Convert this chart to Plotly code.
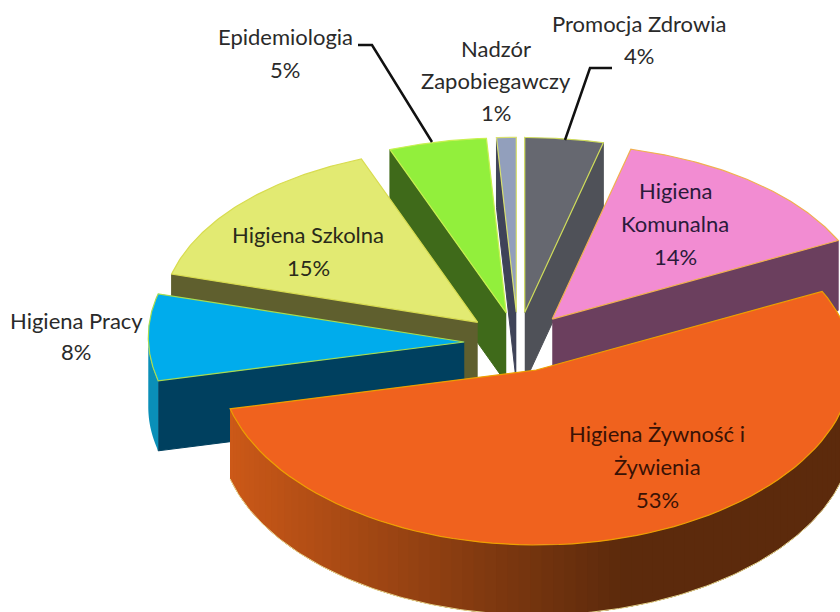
import numpy as np
import plotly.graph_objects as go

categories = ["Promocja Zdrowia", "Higiena Komunalna", "Higiena Żywność i Żywienia",
              "Higiena Pracy", "Higiena Szkolna", "Epidemiologia", "Nadzór Zapobiegawczy"]
values = [4, 14, 53, 8, 15, 5, 1]
top_colors = ["#666870", "#f28cd2", "#f0621e", "#00acec", "#e2ea72", "#92ef3c", "#929fbc"]
wall_colors = ["#4f5158", "#6b3f5e", "#8a3c12", "#00405f", "#5f5f2e", "#3f6a1a", "#3f4358"]
edge_colors = ["#cfdc5a", "#f0b050", "#eda000", "#a8dc50", "#d8dc50", "#c8f050", "#d8e070"]
draw_order = [6, 0, 5, 4, 1, 3, 2]

label_lines = [["Promocja Zdrowia", "4%"], ["Higiena", "Komunalna", "14%"],
               ["Higiena Żywność i", "Żywienia", "53%"], ["Higiena Pracy", "8%"],
               ["Higiena Szkolna", "15%"], ["Epidemiologia", "5%"],
               ["Nadzór", "Zapobiegawczy", "1%"]]
label_x = [639, 675, 657, 76, 308, 285, 496]
label_y = [23, 190, 433, 320, 234, 36, 48]
label_gap = [32, 33, 33, 31, 33, 33, 32]
label_colors = ["#2a2a2a", "#2a1a3a", "#3a1205", "#2a2a2a", "#2a2a1a", "#2a2a2a", "#2a2a2a"]

leader_x = [[358, 372, 432], [612, 590, 565]]
leader_y = [[45, 45, 142], [68, 68, 140]]

CX, CY, RX, RY, EXPLODE, DEPTH, SAG = 518, 342, 316, 175, 0.17, 70, 5

total = sum(values)
edges = np.concatenate([[0], np.cumsum(values)]) / total * 2 * np.pi


def pt(ax, ay, t):
    return ax + RX * np.sin(t), ay - RY * np.cos(t) - SAG * np.sin(t) ** 2


def poly(fig, xs, ys, fill, line=None, w=1):
    fig.add_trace(go.Scatter(x=list(xs), y=list(ys), mode="lines", fill="toself", fillcolor=fill,
                             line=dict(color=line or fill, width=w), hoverinfo="skip", showlegend=False))


def mix(c1, c2, f):
    a = [int(c1[i:i + 2], 16) for i in (1, 3, 5)]
    b = [int(c2[i:i + 2], 16) for i in (1, 3, 5)]
    return "#" + "".join(f"{round(p + (q - p) * f):02x}" for p, q in zip(a, b))


fig = go.Figure()
for i in draw_order:
    a1, a2 = edges[i], edges[i + 1]
    mid = (a1 + a2) / 2
    ax = CX + EXPLODE * RX * np.sin(mid)
    ay = CY - EXPLODE * RY * np.cos(mid)
    # radial walls
    if np.sin(a2) > 0:
        ex, ey = pt(ax, ay, a2)
        poly(fig, [ax, ex, ex, ax], [ay, ey, ey + DEPTH, ay + DEPTH], wall_colors[i])
    if np.sin(a1) < 0:
        ex, ey = pt(ax, ay, a1)
        poly(fig, [ax, ex, ex, ax], [ay, ey, ey + DEPTH, ay + DEPTH], wall_colors[i])
    # outer wall (front half only)
    lo, hi = max(a1, np.pi / 2), min(a2, 3 * np.pi / 2)
    if hi > lo:
        big = categories[i].endswith("Żywienia")
        n = 80 if big else 1
        ts = np.linspace(lo, hi, n + 1)
        # segments are painted from the left end towards the right, each overlapping the previous
        for j in range(n - 1, -1, -1):
            tt = np.linspace(ts[j], hi if not big else ts[min(j + 3, n)], 30 if not big else 8)
            px, py = pt(ax, ay, tt)
            if big:
                f = (pt(ax, ay, ts[j])[0] - 228) / 420
                col = mix("#cf5a18", "#5c2a0c", min(max(f, 0), 1))
            else:
                col = "#0a8fb8"
            fig.add_trace(go.Scatter(x=np.r_[px, px[::-1]], y=np.r_[py, py[::-1] + DEPTH], mode="none",
                                     fill="toself", fillcolor=col, hoverinfo="skip", showlegend=False))
        if big:
            tt = np.linspace(lo, hi, 200)
            px, py = pt(ax, ay, tt)
            fig.add_trace(go.Scatter(x=px, y=py + DEPTH, mode="lines", line=dict(color="#e8d890", width=1),
                                     hoverinfo="skip", showlegend=False))
    # top
    tt = np.linspace(a1, a2, 80)
    px, py = pt(ax, ay, tt)
    poly(fig, np.r_[ax, px, ax], np.r_[ay, py, ay], top_colors[i], edge_colors[i], 1.2)

for lx, ly in zip(leader_x, leader_y):
    fig.add_trace(go.Scatter(x=lx, y=ly, mode="lines", line=dict(color="#111111", width=2.5),
                             hoverinfo="skip", showlegend=False))

annotations = []
for lines, x, y, gap, c in zip(label_lines, label_x, label_y, label_gap, label_colors):
    for k, s in enumerate(lines):
        annotations.append(dict(x=x, y=y + k * gap, xref="x", yref="y", text=s, showarrow=False,
                                xanchor="center", yanchor="middle",
                                font=dict(family="Lato", size=22, color=c)))

fig.update_layout(width=840, height=612, margin=dict(l=0, r=0, t=0, b=0),
                  paper_bgcolor="white", plot_bgcolor="white", showlegend=False,
                  annotations=annotations,
                  xaxis=dict(range=[0, 840], visible=False, fixedrange=True),
                  yaxis=dict(range=[612, 0], visible=False, fixedrange=True))
fig.write_html("out.html", config=dict(displayModeBar=False),
               post_script="document.body.style.margin='0';document.body.style.overflow='hidden';")
